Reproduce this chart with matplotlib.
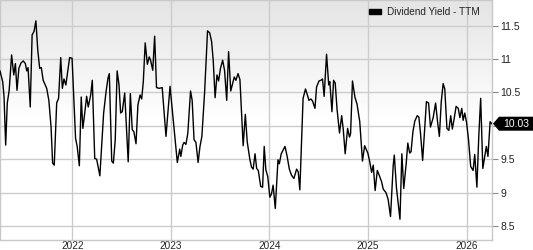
import numpy as np
import pandas as pd
import matplotlib
matplotlib.use('Agg')
import matplotlib.pyplot as plt
from matplotlib.patches import Patch, Polygon
from matplotlib.transforms import IdentityTransform

plt.rcParams['font.family'] = ['Liberation Sans', 'DejaVu Sans']

# weekly-ish dividend yield readings, days counted from the first point
start = pd.Timestamp('2021-04-08')
day_offsets = [
    0, 10, 15, 21, 27, 34, 43, 51, 57, 63, 70, 78, 86, 94, 99, 104, 112, 119, 126, 133,
    140, 147, 153, 160, 173, 181, 189, 195, 201, 210, 217, 225, 231, 237, 244, 258, 267, 280, 286, 294,
    301, 307, 314, 321, 327, 336, 342, 351, 358, 370, 384, 393, 400, 405, 414, 420, 427, 434, 441, 447,
    453, 462, 475, 483, 490, 496, 504, 511, 519, 525, 531, 538, 546, 553, 558, 566, 573, 580, 590, 601,
    615, 630, 657, 666, 670, 677, 682, 689, 696, 706, 712, 719, 726, 734, 741, 748, 758, 769, 777, 784,
    790, 797, 804, 810, 817, 825, 832, 840, 847, 855, 862, 868, 874, 882, 889, 901, 909, 916, 926, 932,
    938, 945, 951, 957, 966, 973, 979, 985, 992, 1000, 1006, 1012, 1020, 1030, 1035, 1042, 1056, 1064, 1072, 1080,
    1089, 1099, 1105, 1111, 1123, 1132, 1138, 1145, 1152, 1158, 1167, 1173, 1182, 1189, 1195, 1201, 1210, 1218, 1222, 1230,
    1236, 1242, 1249, 1258, 1266, 1272, 1279, 1288, 1295, 1299, 1306, 1315, 1323, 1333, 1343, 1351, 1363, 1370, 1377, 1383,
    1390, 1398, 1405, 1414, 1420, 1430, 1438, 1447, 1457, 1461, 1469, 1482, 1489, 1496, 1505, 1511, 1518, 1523, 1530, 1537,
    1546, 1552, 1558, 1566, 1580, 1588, 1595, 1605, 1614, 1621, 1628, 1635, 1642, 1648, 1656, 1663, 1670, 1676, 1683, 1690,
    1698, 1704, 1711, 1716, 1722, 1729, 1736, 1744, 1753, 1759, 1767, 1774, 1781, 1789, 1796, 1802, 1808, 1816, 1822,
]
yield_ttm = [
    10.82, 10.66, 10.43, 9.71, 10.34, 10.53, 11.06, 10.76, 10.93, 10.53, 10.86, 10.94, 10.97, 10.93, 10.82, 10.87, 10.28, 11.36, 11.41, 11.57,
    11.13, 10.86, 10.87, 10.68, 10.56, 10.38, 9.99, 9.44, 9.41, 10.34, 10.41, 11.02, 10.56, 10.70, 10.61, 11.02, 11.01, 9.81, 9.69, 9.40,
    10.43, 9.96, 10.19, 10.44, 10.28, 10.46, 10.68, 9.51, 9.50, 9.25, 10.19, 10.51, 10.71, 10.78, 9.47, 9.44, 9.79, 10.82, 10.61, 10.19,
    10.21, 10.49, 9.46, 10.48, 9.94, 9.91, 9.73, 10.31, 10.46, 10.40, 10.66, 11.24, 10.92, 11.03, 10.98, 10.83, 11.34, 10.57, 10.56, 10.57,
    9.84, 10.59, 9.45, 9.65, 9.54, 9.71, 9.75, 9.72, 9.89, 10.52, 10.38, 9.79, 9.75, 9.45, 9.69, 9.84, 10.49, 11.42, 11.39, 11.26,
    10.98, 10.42, 10.76, 10.67, 10.86, 10.98, 10.83, 10.38, 11.11, 10.52, 10.63, 10.73, 10.68, 10.78, 10.69, 9.70, 10.17, 9.76, 9.49, 9.38,
    9.35, 9.58, 9.36, 9.33, 9.09, 9.08, 9.69, 9.34, 9.24, 8.93, 8.98, 9.11, 8.76, 9.49, 9.43, 9.58, 9.69, 9.54, 9.35, 9.26,
    9.21, 9.35, 9.31, 9.04, 10.41, 10.55, 10.47, 10.38, 10.40, 10.37, 10.26, 10.58, 10.67, 10.68, 10.70, 10.44, 11.07, 10.61, 10.66, 10.21,
    10.68, 10.64, 10.24, 9.89, 10.15, 9.94, 9.58, 9.96, 9.83, 9.88, 10.67, 10.43, 10.32, 10.06, 9.47, 9.70, 9.59, 9.46, 9.30, 9.41,
    9.03, 9.33, 9.26, 9.16, 9.05, 9.00, 8.90, 8.64, 9.41, 9.56, 9.07, 8.60, 9.58, 9.06, 9.43, 9.74, 9.59, 9.61, 9.91, 10.07,
    10.15, 10.13, 9.89, 9.48, 10.36, 10.34, 9.98, 10.12, 10.34, 10.07, 9.84, 10.36, 10.63, 10.55, 9.96, 9.93, 10.15, 9.95, 10.11, 10.29,
    10.26, 10.12, 10.26, 10.08, 10.19, 10.04, 9.79, 9.39, 9.33, 9.57, 9.08, 9.84, 10.41, 9.36, 9.54, 9.69, 9.54, 10.06, 10.03,
]
series_name = 'Dividend Yield - TTM'
y_ticks = [8.5, 9, 9.5, 10, 10.5, 11, 11.5]
year_ticks = [2022, 2023, 2024, 2025, 2026]

dates = start + pd.to_timedelta(day_offsets, unit='D')
last = yield_ttm[-1]

fig = plt.figure(figsize=(5.33, 2.5), dpi=100)
ax = fig.add_axes([0.0, 10 / 250, 492 / 533, 240 / 250])

# light gray fade at the top of the plot area
rows = 240
t = np.clip(np.arange(rows) / (rows * 0.5), 0, 1)[:, None]
top = 0.895
shade = top + (1 - top) * t
grad = np.dstack([shade, shade, shade])
ax.imshow(grad, extent=[0, 1, 0, 1], transform=ax.transAxes, aspect='auto',
          zorder=0, interpolation='bilinear')

ax.plot(dates, yield_ttm, color='black', lw=1.0, zorder=3)

ax.set_xlim(start, start + pd.Timedelta(days=1823))
ax.set_ylim(8.289, 11.882)

ax.set_xticks([pd.Timestamp(f'{y}-01-01') for y in year_ticks])
ax.set_xticklabels([str(y) for y in year_ticks])
ax.set_yticks(y_ticks)
# the tick label hidden under the last-value tag is left blank
ax.set_yticklabels(['' if abs(v - last) < 0.15 else f'{v:g}' for v in y_ticks])
ax.yaxis.tick_right()

ax.grid(True, color='#cccccc', lw=1.0, zorder=1)
ax.set_axisbelow(True)
for s in ax.spines.values():
    s.set_color('#c8c8c8')
    s.set_linewidth(1.0)

ax.tick_params(axis='x', length=0, labelsize=7.2, labelcolor='#222222', pad=0.8)
ax.tick_params(axis='y', length=4, width=0.8, color='#888888', labelsize=7.5,
               labelcolor='#222222', pad=2)

leg = ax.legend([Patch(facecolor='black', edgecolor='black')], [series_name],
                loc='upper right', bbox_to_anchor=(0.99, 1.0), frameon=False,
                fontsize=7.2, handlelength=1.2, handleheight=0.5, handletextpad=0.6,
                borderaxespad=0.3)
for txt in leg.get_texts():
    txt.set_color('#222222')

# last value tag, placed in pixels next to the right edge of the plot
fig.canvas.draw()
ty = ax.transData.transform((0, last))[1]
tx = ax.transAxes.transform((1, 0))[0]
fw = fig.bbox.width
tag = Polygon([(tx + 1, ty), (tx + 7, ty + 7), (fw, ty + 7), (fw, ty - 7), (tx + 7, ty - 7)],
              closed=True, facecolor='black', edgecolor='none',
              transform=IdentityTransform(), zorder=6)
fig.add_artist(tag)
fig.text((tx + 8 + fw) / 2 / fw, ty / fig.bbox.height, f'{last:.2f}', color='white',
         fontsize=7.5, ha='center', va='center', zorder=7)

fig.savefig('out.png', dpi=100)
